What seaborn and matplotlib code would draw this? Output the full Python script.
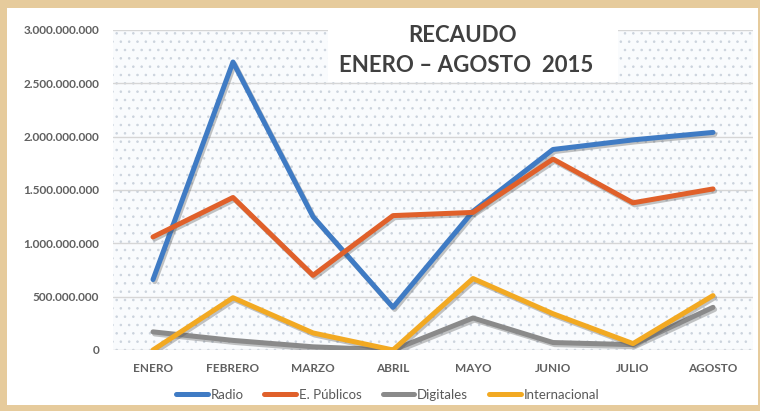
import pandas as pd
import seaborn as sns
import matplotlib.pyplot as plt
import matplotlib.patheffects as pe
from matplotlib.patches import Rectangle
from matplotlib.ticker import FuncFormatter

# Datos (en pesos)
meses = ['ENERO', 'FEBRERO', 'MARZO', 'ABRIL', 'MAYO', 'JUNIO', 'JULIO', 'AGOSTO']
radio = [660e6, 2700e6, 1250e6, 400e6, 1300e6, 1880e6, 1970e6, 2040e6]
publicos = [1060e6, 1430e6, 700e6, 1260e6, 1290e6, 1790e6, 1380e6, 1510e6]
digitales = [170e6, 90e6, 30e6, 0, 300e6, 70e6, 50e6, 400e6]
internacional = [0, 490e6, 160e6, 0, 670e6, 340e6, 60e6, 510e6]

series = ['Radio', 'E. Públicos', 'Digitales', 'Internacional']
colores = ['#3F7BC4', '#E0602A', '#8A8A8A', '#F2A922']

df = pd.DataFrame({
    'Mes': meses * 4,
    'Valor': radio + publicos + digitales + internacional,
    'Serie': [s for s in series for _ in meses],
})

sns.set_style("white")
plt.rcParams['font.family'] = ['Lato', 'DejaVu Sans']
plt.rcParams['hatch.linewidth'] = 0.6

fig = plt.figure(figsize=(7.6, 4.11), dpi=100, facecolor='#E6CB9C')
# fondo blanco del gráfico sobre la textura
fig.patches.append(Rectangle((7 / 760, 6 / 411), 751 / 760, 397 / 411,
                             transform=fig.transFigure, facecolor='white',
                             edgecolor='none', zorder=-5))

ax = fig.add_axes([113 / 760, 1 - 350 / 411, 640 / 760, 320 / 411])
ax.set_facecolor('none')
ax.add_patch(Rectangle((0, 0), 1, 1, transform=ax.transAxes, facecolor='#F9FBFD',
                       edgecolor='#CBD3DD', hatch='..', lw=0, zorder=0))

sns.lineplot(data=df, x='Mes', y='Valor', hue='Serie', palette=colores,
             linewidth=3.6, sort=False, ax=ax, legend=False)

for ln in ax.lines:
    ln.set_path_effects([pe.SimpleLineShadow(offset=(1.2, -1.5), shadow_color='#555555', alpha=0.35),
                         pe.Normal()])
    ln.set_solid_capstyle('round')

ax.set_ylim(0, 3e9)
ax.set_xlim(-0.5, 7.5)
ax.set_yticks([i * 5e8 for i in range(7)])
ax.yaxis.set_major_formatter(FuncFormatter(lambda v, p: f'{v:,.0f}'.replace(',', '.')))
ax.grid(axis='y', color='#D6D6D6', lw=1)
ax.set_axisbelow(True)
for s in ax.spines.values():
    s.set_visible(False)
ax.tick_params(axis='y', length=0, pad=10, labelsize=8.5, labelcolor='#606060')
ax.tick_params(axis='x', length=0, pad=9, labelsize=8.5, labelcolor='#606060')
for t in ax.get_xticklabels() + ax.get_yticklabels():
    t.set_fontweight('bold')
ax.set_xlabel('')
ax.set_ylabel('')

# título en recuadro blanco
fig.patches.append(Rectangle((328 / 760, 1 - 82 / 411), 290 / 760, 74 / 411,
                             transform=fig.transFigure, facecolor='white',
                             edgecolor='none', zorder=3))
fig.text(463 / 760, 1 - 35 / 411, 'RECAUDO', ha='center', va='center',
         fontsize=16, fontweight='bold', color='#404040', zorder=4)
fig.text(466 / 760, 1 - 65 / 411, 'ENERO – AGOSTO  2015', ha='center', va='center',
         fontsize=16, fontweight='bold', color='#404040', zorder=4)

handles = [plt.Line2D([], [], color=c, lw=3.6) for c in colores]
fig.legend(handles, series, loc='center', bbox_to_anchor=(0.51, 1 - 395 / 411), ncol=4,
           frameon=False, fontsize=9.5, handlelength=2.4, handletextpad=0.2,
           columnspacing=1.6, labelcolor='#595959')

fig.savefig('out.png', dpi=100, facecolor=fig.get_facecolor())
